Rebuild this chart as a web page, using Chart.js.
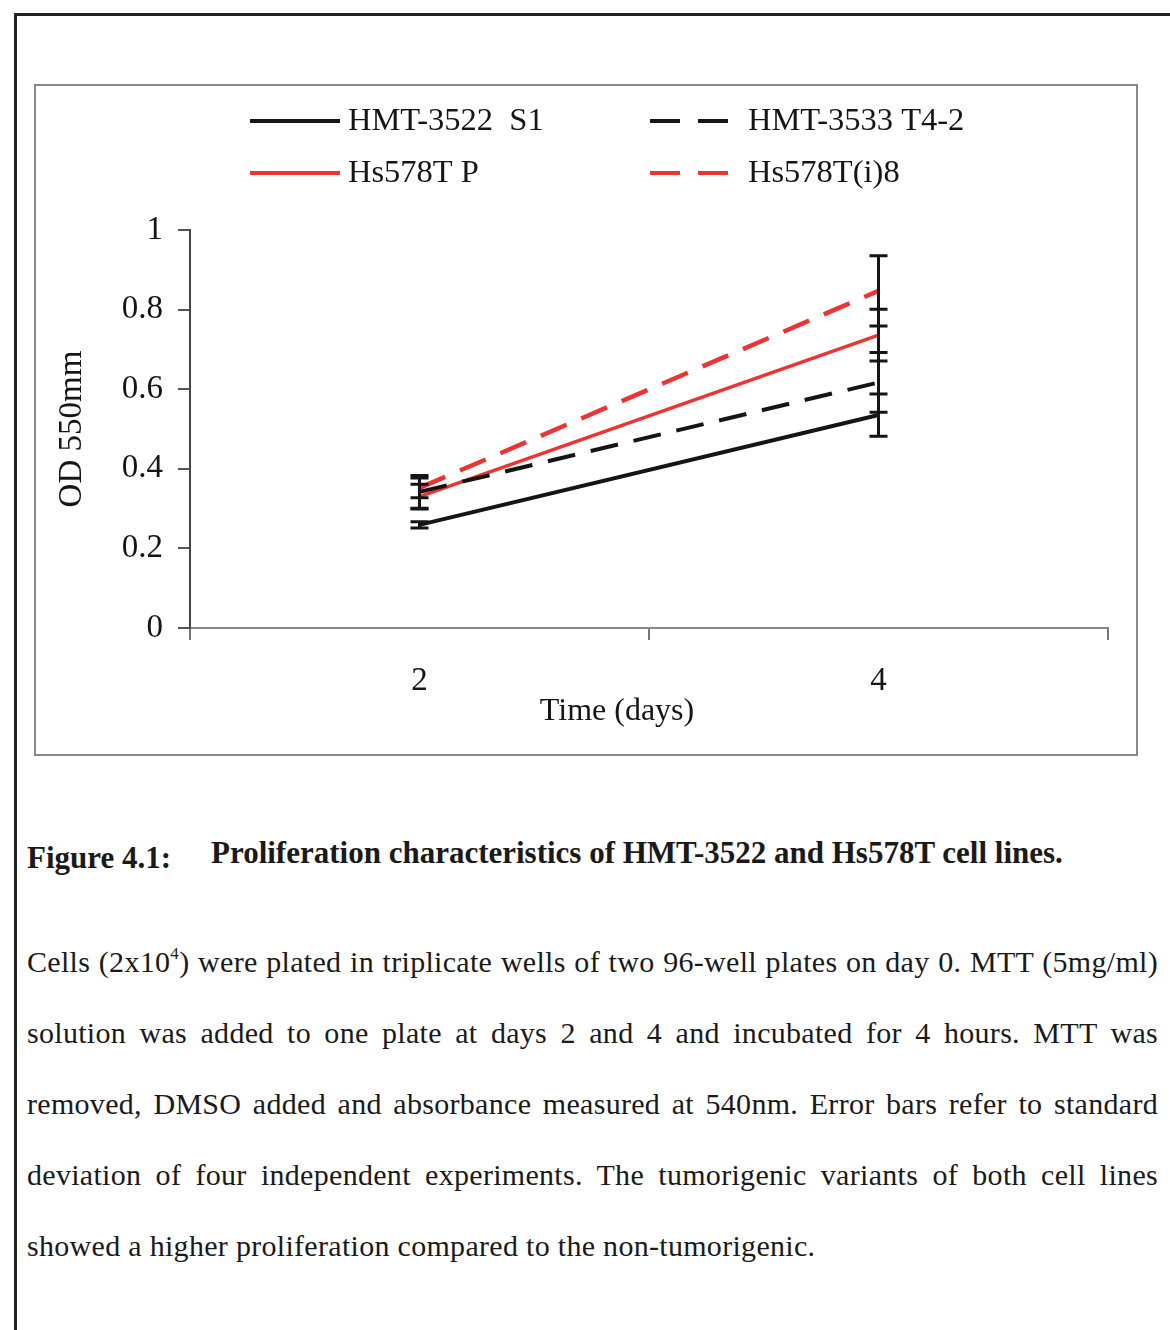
<!DOCTYPE html>
<html>
<head>
<meta charset="utf-8">
<script src="https://cdn.jsdelivr.net/npm/chart.js@4.4.1/dist/chart.umd.min.js"></script>
<style>
  html, body { margin: 0; padding: 0; background: #fff; }
  body { width: 1170px; height: 1330px; position: relative; overflow: hidden;
         font-family: "Liberation Serif", "Times New Roman", serif; color: #1a1a1a; }
  #page { position: absolute; left: 14px; top: 13px; width: 1200px; height: 1400px;
          border-left: 3px solid #222; border-top: 3px solid #222; }
  #frame { position: absolute; left: 34px; top: 84px; width: 1100px; height: 668px;
           border: 2px solid #8a8a8a; }
  #frame canvas { display: block; }
  .cap { position: absolute; font-weight: bold; font-size: 31px; line-height: 34px; white-space: nowrap; }
  #para { position: absolute; left: 27px; top: 926px; width: 1131px; font-size: 30px; letter-spacing: 0.3px; line-height: 71px; }
  #para .ln { text-align: justify; text-align-last: justify; white-space: nowrap; }
  #para .ln.last { text-align: left; text-align-last: left; }
  sup { font-size: 17px; line-height: 0; vertical-align: 13px; }
</style>
</head>
<body>
<div id="page"></div>
<div id="frame"><canvas id="odChart" width="1100" height="668"></canvas></div>

<div class="cap" style="left:27px; top:841px;">Figure 4.1:</div>
<div class="cap" style="left:211px; top:836px;">Proliferation characteristics of HMT-3522 and Hs578T cell lines.</div>

<div id="para">
  <div class="ln">Cells (2x10<sup>4</sup>) were plated in triplicate wells of two 96-well plates on day 0. MTT (5mg/ml)</div>
  <div class="ln">solution was added to one plate at days 2 and 4 and incubated for 4 hours. MTT was</div>
  <div class="ln">removed, DMSO added and absorbance measured at 540nm. Error bars refer to standard</div>
  <div class="ln">deviation of four independent experiments. The tumorigenic variants of both cell lines</div>
  <div class="ln last">showed a higher proliferation compared to the non-tumorigenic.</div>
</div>

<script>
// Data
const days = ['2', '4'];
const seriesNames = ['HMT-3522  S1', 'HMT-3533 T4-2', 'Hs578T P', 'Hs578T(i)8'];
const s1 = [0.259, 0.535];
const s1Err = [0.008, 0.053];
const t42 = [0.342, 0.617];
const t42Err = [0.041, 0.075];
const hsP = [0.330, 0.736];
const hsPErr = [0.031, 0.065];
const hsI8 = [0.352, 0.847];
const hsI8Err = [0.025, 0.088];
const yTicks = [0, 0.2, 0.4, 0.6, 0.8, 1];
const yTickLabels = ['0', '0.2', '0.4', '0.6', '0.8', '1'];

const BLACK = '#151515';
const RED = '#ee3333';
const serif = '"Liberation Serif", "Times New Roman", serif';

// error bars drawn through the chart's own y scale
const errorBars = {
    id: 'errorBars',
    afterDatasetsDraw(chart) {
        const ctx = chart.ctx;
        const y = chart.scales.y;
        ctx.save();
        ctx.strokeStyle = BLACK;
        ctx.lineWidth = 3;
        chart.data.datasets.forEach((ds, i) => {
            const meta = chart.getDatasetMeta(i);
            meta.data.forEach((pt, j) => {
                const e = ds.errors[j];
                const top = y.getPixelForValue(ds.data[j] + e);
                const bot = y.getPixelForValue(ds.data[j] - e);
                ctx.beginPath();
                ctx.moveTo(pt.x, top); ctx.lineTo(pt.x, bot);
                ctx.moveTo(pt.x - 9, top); ctx.lineTo(pt.x + 9, top);
                ctx.moveTo(pt.x - 9, bot); ctx.lineTo(pt.x + 9, bot);
                ctx.stroke();
            });
        });
        ctx.restore();
    }
};

// 2x2 legend above the plot
const gridLegend = {
    id: 'gridLegend',
    afterDraw(chart) {
        const ctx = chart.ctx;
        const cols = [214, 614];
        const rows = [35, 87];
        ctx.save();
        ctx.font = '32.5px ' + serif;
        ctx.textBaseline = 'middle';
        ctx.fillStyle = BLACK;
        chart.data.datasets.forEach((ds, k) => {
            const x = cols[k % 2];
            const yy = rows[Math.floor(k / 2)];
            ctx.strokeStyle = ds.borderColor;
            ctx.lineWidth = 4;
            ctx.setLineDash(ds.borderDash.length ? [30, 18] : []);
            ctx.beginPath();
            ctx.moveTo(x, yy); ctx.lineTo(x + (k % 2 ? 80 : 90), yy);
            ctx.stroke();
            ctx.setLineDash([]);
            ctx.fillText(ds.label, x + 98, yy);
        });
        ctx.restore();
    }
};

const ctx = document.getElementById('odChart').getContext('2d');
const chart = new Chart(ctx, {
    type: 'line',
    data: {
        labels: days,
        datasets: [
            { label: seriesNames[0], data: s1, errors: s1Err, borderColor: BLACK, borderWidth: 4, borderDash: [] },
            { label: seriesNames[1], data: t42, errors: t42Err, borderColor: BLACK, borderWidth: 4, borderDash: [28, 16] },
            { label: seriesNames[2], data: hsP, errors: hsPErr, borderColor: RED, borderWidth: 3.5, borderDash: [] },
            { label: seriesNames[3], data: hsI8, errors: hsI8Err, borderColor: RED, borderWidth: 4.5, borderDash: [28, 16] }
        ]
    },
    options: {
        responsive: false,
        animation: false,
        layout: { padding: { top: 144, left: 0, right: 28, bottom: 0 } },
        elements: { point: { radius: 0, hoverRadius: 0 }, line: { tension: 0 } },
        plugins: { legend: { display: false }, tooltip: { enabled: false } },
        scales: {
            x: {
                offset: true,
                grid: { offset: true, drawOnChartArea: false, drawTicks: true, tickLength: 12, color: '#777', lineWidth: 2 },
                border: { color: '#888', width: 2 },
                ticks: { color: BLACK, font: { family: serif, size: 33 }, padding: 22 },
                // trailing spaces nudge the title left, as in the original
                title: { display: true, text: 'Time (days)' + '\u00A0'.repeat(8), color: BLACK, font: { family: serif, size: 32 }, padding: { top: 0, bottom: 23 } },
                afterFit(scale) { scale.height = 126; }
            },
            y: {
                min: 0, max: 1,
                afterBuildTicks(scale) { scale.ticks = yTicks.map(v => ({ value: v })); },
                grid: { drawOnChartArea: false, drawTicks: true, tickLength: 12, color: '#555', lineWidth: 2 },
                border: { color: '#444', width: 2 },
                ticks: {
                    color: BLACK, font: { family: serif, size: 33 }, padding: 15,
                    callback: (v, i) => yTickLabels[i]
                },
                title: { display: true, text: 'OD 550mm', color: BLACK, font: { family: serif, size: 33 }, padding: { top: 17, bottom: 0 } },
                afterFit(scale) { scale.width = 154; }
            }
        }
    },
    plugins: [errorBars, gridLegend]
});
</script>
</body>
</html>
